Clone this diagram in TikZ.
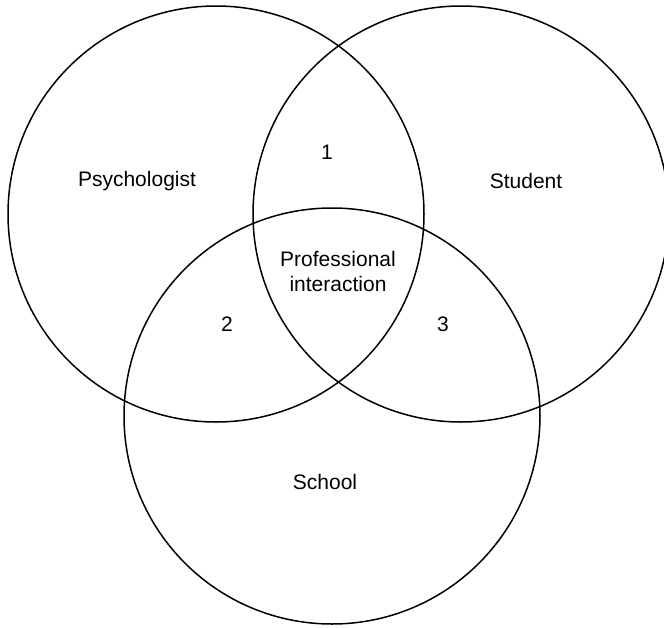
\documentclass[tikz,border=0pt]{standalone}
\usepackage{fontspec}
\setmainfont{Liberation Sans}
\usepackage{tikz}
\usetikzlibrary{positioning}

\begin{document}
\begin{tikzpicture}[
    x=1pt, y=-1pt,
    venn/.style={circle, draw, line width=1.5pt, minimum size=416pt, inner sep=0pt},
    lbl/.style={align=center, font=\fontsize{21}{25}\selectfont}
]
\useasboundingbox (0,0) rectangle (664,627);

\node[venn] (psych) at (216,214) {};
\node[venn] (student) at (461,214) {};
\node[venn] (school) at (332,416) {};

\node[lbl] (psychlbl) at (137,181) {Psychologist};
\node[lbl] (studentlbl) at (526,181) {Student};
\node[lbl] (schoollbl) at (325,482) {School};

\node[lbl] (one) at (327,152) {1};
\node[lbl] (two) at (227,324) {2};
\node[lbl] (three) at (443,324) {3};
\node[lbl] (core) at (338,271) {Professional\\interaction};

\end{tikzpicture}
\end{document}
